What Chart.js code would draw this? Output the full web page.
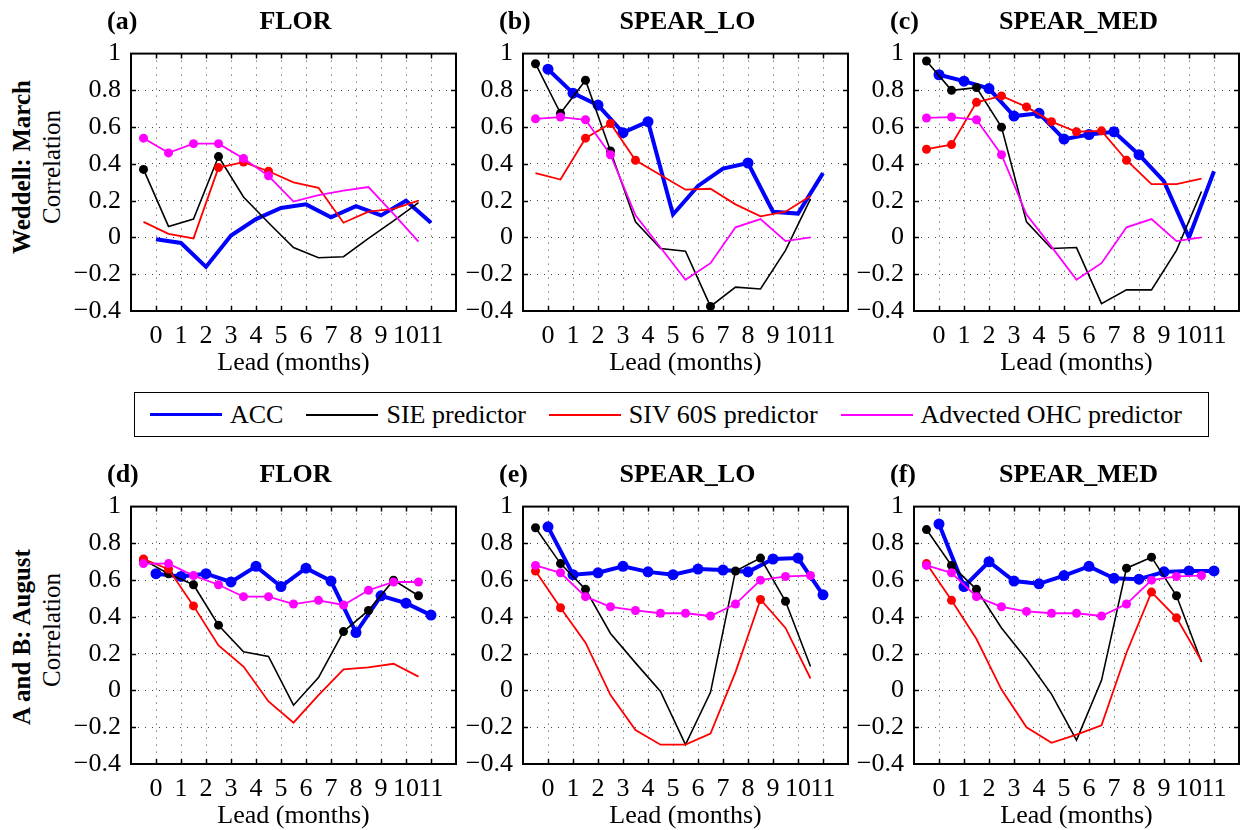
<!DOCTYPE html>
<html>
<head>
<meta charset="utf-8">
<title>Predictor correlations by lead</title>
<script src="https://cdn.jsdelivr.net/npm/chart.js@4.4.0/dist/chart.umd.min.js"></script>
<style>
  body {
    margin: 0;
    width: 1249px;
    height: 830px;
    position: relative;
    overflow: hidden;
    background: #fff;
    font-family: "Liberation Serif", "Times New Roman", serif;
    color: #000;
  }
  canvas { position: absolute; }
  .tag, .title {
    position: absolute;
    font-weight: bold;
    font-size: 26px;
    line-height: 30px;
    white-space: nowrap;
    transform: translateY(-50%);
  }
  .title { transform: translate(-50%, -50%); }
  .rowlab {
    position: absolute;
    font-size: 25px;
    white-space: nowrap;
    transform: translate(-50%, -50%) rotate(-90deg);
  }
  .rowlab.bold { font-weight: bold; }
  #legend {
    position: absolute;
    left: 134px;
    top: 392px;
    height: 43px;
    border: 1.5px solid #000;
    display: flex;
    align-items: center;
    padding: 0 26px 0 15px;
    font-size: 26px;
  }
  #legend .sw { width: 72px; margin-right: 8px; }
  #legend .txt { margin-right: 23px; }
  #legend .txt:last-child { margin-right: 0; }
</style>
</head>
<body>

<div class="rowlab bold" style="left:22px;top:167px;">Weddell: March</div>
<div class="rowlab" style="left:52px;top:167px;">Correlation</div>
<div class="rowlab bold" style="left:22px;top:637px;">A and B: August</div>
<div class="rowlab" style="left:52px;top:630px;">Correlation</div>

<div id="legend">
  <div class="sw" style="height:3.5px;background:#0000ff"></div><span class="txt">ACC</span>
  <div class="sw" style="height:2px;background:#000"></div><span class="txt">SIE predictor</span>
  <div class="sw" style="height:2px;background:#ff0000"></div><span class="txt">SIV 60S predictor</span>
  <div class="sw" style="height:2px;background:#ff00ff"></div><span class="txt">Advected OHC predictor</span>
</div>

<script>
// lead axes: ACC at whole months, predictors offset by half a month
const leads = [0, 1, 2, 3, 4, 5, 6, 7, 8, 9, 10, 11];
const predLeads = [-0.5, 0.5, 1.5, 2.5, 3.5, 4.5, 5.5, 6.5, 7.5, 8.5, 9.5, 10.5];
const allDots = [0, 1, 2, 3, 4, 5, 6, 7, 8, 9, 10, 11];

const panelTags = ["(a)", "(b)", "(c)", "(d)", "(e)", "(f)"];
const panelTitles = ["FLOR", "SPEAR_LO", "SPEAR_MED", "FLOR", "SPEAR_LO", "SPEAR_MED"];

// (a) FLOR, Weddell March
const accA = [-0.01, -0.03, -0.16, 0.01, 0.10, 0.16, 0.18, 0.11, 0.17, 0.12, 0.20, 0.08];
const sieA = [0.37, 0.06, 0.10, 0.44, 0.22, 0.08, -0.055, -0.11, -0.105, -0.005, 0.09, 0.19];
const sivA = [0.085, 0.02, -0.005, 0.38, 0.41, 0.36, 0.30, 0.27, 0.08, 0.14, 0.155, 0.20];
const ohcA = [0.54, 0.46, 0.51, 0.51, 0.43, 0.335, 0.195, 0.23, 0.255, 0.274, 0.128, -0.023];
const accADots = [];
const sieADots = [0, 3];
const sivADots = [3, 4, 5];
const ohcADots = [0, 1, 2, 3, 4, 5];

// (b) SPEAR_LO, Weddell March
const accB = [0.915, 0.785, 0.72, 0.57, 0.63, 0.125, 0.28, 0.375, 0.405, 0.14, 0.13, 0.35];
const sieB = [0.945, 0.675, 0.855, 0.47, 0.085, -0.06, -0.075, -0.375, -0.27, -0.28, -0.07, 0.21];
const sivB = [0.35, 0.315, 0.54, 0.62, 0.42, 0.34, 0.26, 0.265, 0.18, 0.115, 0.14, 0.225];
const ohcB = [0.645, 0.655, 0.64, 0.45, 0.12, -0.055, -0.23, -0.14, 0.055, 0.10, -0.02, 0.0];
const accBDots = [0, 1, 2, 3, 4, 8];
const sieBDots = [0, 1, 2, 3, 7];
const sivBDots = [2, 3, 4];
const ohcBDots = [0, 1, 2, 3];

// (c) SPEAR_MED, Weddell March
const accC = [0.885, 0.85, 0.81, 0.66, 0.675, 0.535, 0.56, 0.575, 0.45, 0.305, 0.0, 0.36];
const sieC = [0.96, 0.80, 0.815, 0.60, 0.085, -0.06, -0.055, -0.36, -0.285, -0.285, -0.07, 0.25];
const sivC = [0.48, 0.505, 0.735, 0.77, 0.71, 0.63, 0.575, 0.58, 0.42, 0.29, 0.29, 0.32];
const ohcC = [0.65, 0.655, 0.64, 0.45, 0.125, -0.05, -0.23, -0.14, 0.055, 0.10, -0.02, 0.0];
const accCDots = [0, 1, 2, 3, 4, 5, 6, 7, 8];
const sieCDots = [0, 1, 2, 3];
const sivCDots = [0, 1, 2, 3, 4, 5, 6, 7, 8];
const ohcCDots = [0, 1, 2, 3];

// (d) FLOR, A and B August
const accD = [0.635, 0.62, 0.635, 0.59, 0.675, 0.565, 0.665, 0.595, 0.315, 0.515, 0.475, 0.41];
const sieD = [0.71, 0.635, 0.575, 0.355, 0.21, 0.185, -0.08, 0.07, 0.32, 0.435, 0.60, 0.515];
const sivD = [0.715, 0.66, 0.46, 0.245, 0.13, -0.06, -0.175, -0.025, 0.115, 0.125, 0.145, 0.075];
const ohcD = [0.69, 0.69, 0.625, 0.575, 0.51, 0.51, 0.47, 0.49, 0.465, 0.545, 0.59, 0.59];
const accDDots = allDots;
const sieDDots = [0, 1, 2, 3, 8, 9, 10, 11];
const sivDDots = [0, 1, 2];
const ohcDDots = allDots;

// (e) SPEAR_LO, A and B August
const accE = [0.89, 0.63, 0.64, 0.675, 0.645, 0.63, 0.66, 0.655, 0.645, 0.715, 0.72, 0.52];
const sieE = [0.885, 0.69, 0.55, 0.31, 0.15, -0.005, -0.295, -0.01, 0.65, 0.72, 0.485, 0.13];
const sivE = [0.65, 0.45, 0.26, -0.025, -0.215, -0.295, -0.295, -0.235, 0.10, 0.495, 0.34, 0.065];
const ohcE = [0.68, 0.64, 0.51, 0.455, 0.435, 0.42, 0.42, 0.405, 0.47, 0.60, 0.62, 0.625];
const accEDots = allDots;
const sieEDots = [0, 1, 2, 8, 9, 10];
const sivEDots = [0, 1, 9];
const ohcEDots = allDots;

// (f) SPEAR_MED, A and B August
const accF = [0.905, 0.565, 0.70, 0.595, 0.58, 0.625, 0.675, 0.61, 0.605, 0.645, 0.65, 0.65];
const sieF = [0.875, 0.68, 0.55, 0.34, 0.17, -0.02, -0.27, 0.055, 0.665, 0.725, 0.515, 0.155];
const sivF = [0.69, 0.49, 0.28, 0.005, -0.20, -0.285, -0.24, -0.19, 0.205, 0.535, 0.395, 0.16];
const ohcF = [0.68, 0.64, 0.51, 0.455, 0.43, 0.42, 0.42, 0.405, 0.47, 0.60, 0.62, 0.625];
const accFDots = allDots;
const sieFDots = [0, 1, 2, 8, 9, 10];
const sivFDots = [0, 1, 9, 10];
const ohcFDots = allDots;

const yTicks = [-0.4, 1];

const panels = [
  [accA, sieA, sivA, ohcA, accADots, sieADots, sivADots, ohcADots],
  [accB, sieB, sivB, ohcB, accBDots, sieBDots, sivBDots, ohcBDots],
  [accC, sieC, sivC, ohcC, accCDots, sieCDots, sivCDots, ohcCDots],
  [accD, sieD, sivD, ohcD, accDDots, sieDDots, sivDDots, ohcDDots],
  [accE, sieE, sivE, ohcE, accEDots, sieEDots, sivEDots, ohcEDots],
  [accF, sieF, sivF, ohcF, accFDots, sieFDots, sivFDots, ohcFDots],
];

// frame box geometry (page pixels)
const colLeft = [131, 523, 914];
const rowTop = [48, 501];
const frameW = 329;
const frameH = 263;
const padL = 70, padT = 20, padR = 6, padB = 72;

Chart.defaults.font.family = "'Liberation Serif', 'Times New Roman', serif";
Chart.defaults.font.size = 26;
Chart.defaults.color = "#000";

// box round the plot area plus inward tick marks on all four sides
const frameTicks = {
  id: "frameTicks",
  afterDraw(chart) {
    const { ctx, chartArea: a, scales } = chart;
    const x = scales.x, y = scales.y;
    ctx.save();
    ctx.strokeStyle = "#000";
    ctx.lineWidth = 1.5;
    ctx.beginPath();
    x.ticks.forEach((t) => {
      const px = Math.round(x.getPixelForValue(t.value)) + 0.5;
      if (px <= a.left + 2 || px >= a.right - 2) return;
      ctx.moveTo(px, a.bottom);
      ctx.lineTo(px, a.bottom - 5);
      ctx.moveTo(px, a.top);
      ctx.lineTo(px, a.top + 5);
    });
    y.ticks.forEach((t) => {
      const py = Math.round(y.getPixelForValue(t.value)) + 0.5;
      if (py <= a.top + 2 || py >= a.bottom - 2) return;
      ctx.moveTo(a.left, py);
      ctx.lineTo(a.left + 5, py);
      ctx.moveTo(a.right, py);
      ctx.lineTo(a.right - 5, py);
    });
    ctx.stroke();
    ctx.lineWidth = 2;
    ctx.strokeRect(a.left, a.top, a.right - a.left, a.bottom - a.top);
    ctx.restore();
  },
};

function series(xs, ys, dots, color, width, radius, order) {
  return {
    data: xs.map((x, i) => ({ x: x, y: ys[i] })),
    borderColor: color,
    backgroundColor: color,
    borderWidth: width,
    pointRadius: xs.map((x, i) => (dots.includes(i) ? radius : 0)),
    pointBorderWidth: 0,
    pointHoverRadius: 0,
    tension: 0,
    order: order,
  };
}

function yLabel(v) {
  const r = Math.round(v * 10) / 10;
  if (r === 0) return "0";
  if (r === 1) return "1";
  return (r < 0 ? "\u2212" : "") + Math.abs(r).toFixed(1);
}

panels.forEach((p, k) => {
  const col = k % 3, row = Math.floor(k / 3);
  const left = colLeft[col], top = rowTop[row];

  const canvas = document.createElement("canvas");
  canvas.width = frameW + padL + padR;
  canvas.height = frameH + padT + padB;
  canvas.style.left = left - padL + "px";
  canvas.style.top = top - padT + "px";
  document.body.appendChild(canvas);

  const tag = document.createElement("div");
  tag.className = "tag";
  tag.textContent = panelTags[k];
  tag.style.left = left - 24 + "px";
  tag.style.top = top - 27 + "px";
  document.body.appendChild(tag);

  const title = document.createElement("div");
  title.className = "title";
  title.textContent = panelTitles[k];
  title.style.left = left + frameW / 2 + "px";
  title.style.top = top - 27 + "px";
  document.body.appendChild(title);

  new Chart(canvas.getContext("2d"), {
    type: "line",
    data: {
      datasets: [
        series(leads, p[0], p[4], "#0000ff", 4, 5.5, 3),
        series(predLeads, p[1], p[5], "#000000", 1.6, 4.5, 2),
        series(predLeads, p[2], p[6], "#ff0000", 1.8, 4.5, 1),
        series(predLeads, p[3], p[7], "#ff00ff", 1.8, 4.5, 0),
      ],
    },
    options: {
      responsive: false,
      animation: false,
      events: [],
      layout: { padding: { top: padT, right: padR, left: 0, bottom: 0 } },
      plugins: { legend: { display: false }, tooltip: { enabled: false } },
      scales: {
        x: {
          type: "linear",
          min: -1,
          max: 12,
          afterFit: (s) => { s.height = padB; },
          ticks: {
            stepSize: 1,
            autoSkip: false,
            maxRotation: 0,
            padding: 10,
            callback: (v) => (v < 0 || v > 11 ? "" : String(v)),
          },
          grid: { color: "rgba(0,0,0,0.75)", lineWidth: 1, drawTicks: false },
          border: { display: false, dash: [1, 6] },
          title: { display: true, text: "Lead (months)", padding: { top: 0, bottom: 4 } },
        },
        y: {
          min: yTicks[0],
          max: yTicks[1],
          afterFit: (s) => { s.width = padL; },
          ticks: { stepSize: 0.2, padding: 10, callback: yLabel },
          grid: { color: "rgba(0,0,0,0.75)", lineWidth: 1, drawTicks: false },
          border: { display: false, dash: [1, 6] },
        },
      },
    },
    plugins: [frameTicks],
  });
});
</script>
</body>
</html>
